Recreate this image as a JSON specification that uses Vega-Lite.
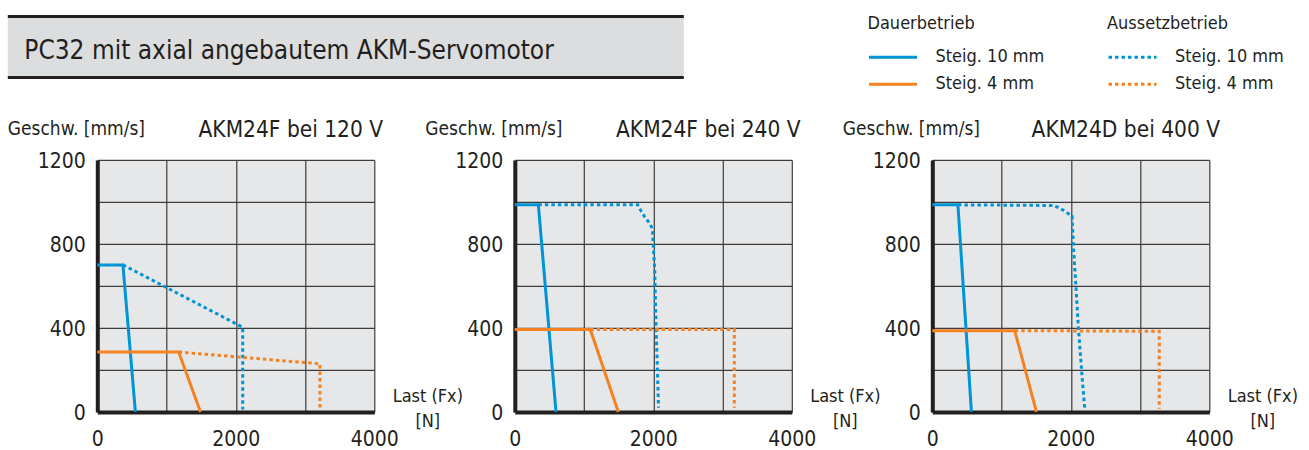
{
  "$schema": "https://vega.github.io/schema/vega-lite/v6.json",
  "background": "white",
  "padding": {"left": 5.8, "top": 14.5, "right": 0, "bottom": 0},
  "datasets": {
    "kurven": [
      {"panel": "AKM24F bei 120 V", "betrieb": "Dauerbetrieb", "steigung": "Steig. 10 mm", "i": 0, "last": 0, "geschw": 700},
      {"panel": "AKM24F bei 120 V", "betrieb": "Dauerbetrieb", "steigung": "Steig. 10 mm", "i": 1, "last": 370, "geschw": 700},
      {"panel": "AKM24F bei 120 V", "betrieb": "Dauerbetrieb", "steigung": "Steig. 10 mm", "i": 2, "last": 550, "geschw": 0},
      {"panel": "AKM24F bei 120 V", "betrieb": "Dauerbetrieb", "steigung": "Steig. 4 mm", "i": 0, "last": 0, "geschw": 285},
      {"panel": "AKM24F bei 120 V", "betrieb": "Dauerbetrieb", "steigung": "Steig. 4 mm", "i": 1, "last": 1175, "geschw": 285},
      {"panel": "AKM24F bei 120 V", "betrieb": "Dauerbetrieb", "steigung": "Steig. 4 mm", "i": 2, "last": 1490, "geschw": 0},
      {"panel": "AKM24F bei 120 V", "betrieb": "Aussetzbetrieb", "steigung": "Steig. 10 mm", "i": 0, "last": 370, "geschw": 700},
      {"panel": "AKM24F bei 120 V", "betrieb": "Aussetzbetrieb", "steigung": "Steig. 10 mm", "i": 1, "last": 2100, "geschw": 403},
      {"panel": "AKM24F bei 120 V", "betrieb": "Aussetzbetrieb", "steigung": "Steig. 10 mm", "i": 2, "last": 2100, "geschw": 12},
      {"panel": "AKM24F bei 120 V", "betrieb": "Aussetzbetrieb", "steigung": "Steig. 4 mm", "i": 0, "last": 1175, "geschw": 285},
      {"panel": "AKM24F bei 120 V", "betrieb": "Aussetzbetrieb", "steigung": "Steig. 4 mm", "i": 1, "last": 3215, "geschw": 229},
      {"panel": "AKM24F bei 120 V", "betrieb": "Aussetzbetrieb", "steigung": "Steig. 4 mm", "i": 2, "last": 3215, "geschw": 18},

      {"panel": "AKM24F bei 240 V", "betrieb": "Dauerbetrieb", "steigung": "Steig. 10 mm", "i": 0, "last": 0, "geschw": 987},
      {"panel": "AKM24F bei 240 V", "betrieb": "Dauerbetrieb", "steigung": "Steig. 10 mm", "i": 1, "last": 340, "geschw": 987},
      {"panel": "AKM24F bei 240 V", "betrieb": "Dauerbetrieb", "steigung": "Steig. 10 mm", "i": 2, "last": 595, "geschw": 0},
      {"panel": "AKM24F bei 240 V", "betrieb": "Dauerbetrieb", "steigung": "Steig. 4 mm", "i": 0, "last": 0, "geschw": 392},
      {"panel": "AKM24F bei 240 V", "betrieb": "Dauerbetrieb", "steigung": "Steig. 4 mm", "i": 1, "last": 1090, "geschw": 392},
      {"panel": "AKM24F bei 240 V", "betrieb": "Dauerbetrieb", "steigung": "Steig. 4 mm", "i": 2, "last": 1495, "geschw": 0},
      {"panel": "AKM24F bei 240 V", "betrieb": "Aussetzbetrieb", "steigung": "Steig. 10 mm", "i": 0, "last": 340, "geschw": 987},
      {"panel": "AKM24F bei 240 V", "betrieb": "Aussetzbetrieb", "steigung": "Steig. 10 mm", "i": 1, "last": 1775, "geschw": 987},
      {"panel": "AKM24F bei 240 V", "betrieb": "Aussetzbetrieb", "steigung": "Steig. 10 mm", "i": 2, "last": 1825, "geschw": 955},
      {"panel": "AKM24F bei 240 V", "betrieb": "Aussetzbetrieb", "steigung": "Steig. 10 mm", "i": 3, "last": 1870, "geschw": 932},
      {"panel": "AKM24F bei 240 V", "betrieb": "Aussetzbetrieb", "steigung": "Steig. 10 mm", "i": 4, "last": 1930, "geschw": 905},
      {"panel": "AKM24F bei 240 V", "betrieb": "Aussetzbetrieb", "steigung": "Steig. 10 mm", "i": 5, "last": 1975, "geschw": 880},
      {"panel": "AKM24F bei 240 V", "betrieb": "Aussetzbetrieb", "steigung": "Steig. 10 mm", "i": 6, "last": 1990, "geschw": 855},
      {"panel": "AKM24F bei 240 V", "betrieb": "Aussetzbetrieb", "steigung": "Steig. 10 mm", "i": 7, "last": 2000, "geschw": 790},
      {"panel": "AKM24F bei 240 V", "betrieb": "Aussetzbetrieb", "steigung": "Steig. 10 mm", "i": 8, "last": 2020, "geschw": 680},
      {"panel": "AKM24F bei 240 V", "betrieb": "Aussetzbetrieb", "steigung": "Steig. 10 mm", "i": 9, "last": 2040, "geschw": 400},
      {"panel": "AKM24F bei 240 V", "betrieb": "Aussetzbetrieb", "steigung": "Steig. 10 mm", "i": 10, "last": 2060, "geschw": 200},
      {"panel": "AKM24F bei 240 V", "betrieb": "Aussetzbetrieb", "steigung": "Steig. 10 mm", "i": 11, "last": 2075, "geschw": 20},
      {"panel": "AKM24F bei 240 V", "betrieb": "Aussetzbetrieb", "steigung": "Steig. 4 mm", "i": 0, "last": 1090, "geschw": 392},
      {"panel": "AKM24F bei 240 V", "betrieb": "Aussetzbetrieb", "steigung": "Steig. 4 mm", "i": 1, "last": 3170, "geschw": 392},
      {"panel": "AKM24F bei 240 V", "betrieb": "Aussetzbetrieb", "steigung": "Steig. 4 mm", "i": 2, "last": 3170, "geschw": 20},

      {"panel": "AKM24D bei 400 V", "betrieb": "Dauerbetrieb", "steigung": "Steig. 10 mm", "i": 0, "last": 0, "geschw": 986},
      {"panel": "AKM24D bei 400 V", "betrieb": "Dauerbetrieb", "steigung": "Steig. 10 mm", "i": 1, "last": 370, "geschw": 986},
      {"panel": "AKM24D bei 400 V", "betrieb": "Dauerbetrieb", "steigung": "Steig. 10 mm", "i": 2, "last": 565, "geschw": 0},
      {"panel": "AKM24D bei 400 V", "betrieb": "Dauerbetrieb", "steigung": "Steig. 4 mm", "i": 0, "last": 0, "geschw": 387},
      {"panel": "AKM24D bei 400 V", "betrieb": "Dauerbetrieb", "steigung": "Steig. 4 mm", "i": 1, "last": 1190, "geschw": 387},
      {"panel": "AKM24D bei 400 V", "betrieb": "Dauerbetrieb", "steigung": "Steig. 4 mm", "i": 2, "last": 1504, "geschw": 0},
      {"panel": "AKM24D bei 400 V", "betrieb": "Aussetzbetrieb", "steigung": "Steig. 10 mm", "i": 0, "last": 370, "geschw": 986},
      {"panel": "AKM24D bei 400 V", "betrieb": "Aussetzbetrieb", "steigung": "Steig. 10 mm", "i": 1, "last": 1745, "geschw": 983},
      {"panel": "AKM24D bei 400 V", "betrieb": "Aussetzbetrieb", "steigung": "Steig. 10 mm", "i": 2, "last": 1841, "geschw": 971},
      {"panel": "AKM24D bei 400 V", "betrieb": "Aussetzbetrieb", "steigung": "Steig. 10 mm", "i": 3, "last": 1937, "geschw": 950},
      {"panel": "AKM24D bei 400 V", "betrieb": "Aussetzbetrieb", "steigung": "Steig. 10 mm", "i": 4, "last": 2019, "geschw": 932},
      {"panel": "AKM24D bei 400 V", "betrieb": "Aussetzbetrieb", "steigung": "Steig. 10 mm", "i": 5, "last": 2034, "geschw": 808},
      {"panel": "AKM24D bei 400 V", "betrieb": "Aussetzbetrieb", "steigung": "Steig. 10 mm", "i": 6, "last": 2058, "geschw": 681},
      {"panel": "AKM24D bei 400 V", "betrieb": "Aussetzbetrieb", "steigung": "Steig. 10 mm", "i": 7, "last": 2082, "geschw": 554},
      {"panel": "AKM24D bei 400 V", "betrieb": "Aussetzbetrieb", "steigung": "Steig. 10 mm", "i": 8, "last": 2111, "geschw": 395},
      {"panel": "AKM24D bei 400 V", "betrieb": "Aussetzbetrieb", "steigung": "Steig. 10 mm", "i": 9, "last": 2140, "geschw": 268},
      {"panel": "AKM24D bei 400 V", "betrieb": "Aussetzbetrieb", "steigung": "Steig. 10 mm", "i": 10, "last": 2169, "geschw": 141},
      {"panel": "AKM24D bei 400 V", "betrieb": "Aussetzbetrieb", "steigung": "Steig. 10 mm", "i": 11, "last": 2202, "geschw": 14},
      {"panel": "AKM24D bei 400 V", "betrieb": "Aussetzbetrieb", "steigung": "Steig. 4 mm", "i": 0, "last": 1190, "geschw": 387},
      {"panel": "AKM24D bei 400 V", "betrieb": "Aussetzbetrieb", "steigung": "Steig. 4 mm", "i": 1, "last": 3277, "geschw": 384},
      {"panel": "AKM24D bei 400 V", "betrieb": "Aussetzbetrieb", "steigung": "Steig. 4 mm", "i": 2, "last": 3277, "geschw": 15}
    ]
  },
  "config": {
    "font": "DejaVu Sans Condensed, DejaVu Sans, sans-serif",
    "view": {"stroke": null},
    "axis": {
      "domainColor": "#231f20", "domainWidth": 4, "ticks": false, "grid": true,
      "gridColor": "#3c3c3c", "gridWidth": 1.2, "gridOpacity": 1,
      "labelFont": "DejaVu Sans Condensed, DejaVu Sans, sans-serif",
      "labelFontSize": 21, "labelColor": "#231f20",
      "labelFlush": false, "labelOverlap": false, "labelBound": false,
      "titleFont": "DejaVu Sans Condensed, DejaVu Sans, sans-serif",
      "titleColor": "#231f20", "titleFontWeight": "normal"
    },
    "axisX": {"labelPadding": 17},
    "axisY": {"labelPadding": 12, "labelOffset": 2},
    "legend": {
      "orient": "none", "symbolType": "stroke", "symbolSize": 2304, "symbolStrokeWidth": 3,
      "clipHeight": 27, "rowPadding": 0, "labelOffset": 17, "titlePadding": 10.5, "padding": 0,
      "labelFont": "DejaVu Sans Condensed, DejaVu Sans, sans-serif",
      "titleFont": "DejaVu Sans Condensed, DejaVu Sans, sans-serif",
      "labelFontSize": 18, "titleFontSize": 18, "titleFontWeight": "normal",
      "labelColor": "#231f20", "titleColor": "#231f20", "legendY": -1.3
    }
  },
  "columns": 1,
  "align": "none",
  "bounds": "full",
  "spacing": 39.4,
  "concat": [
    {
      "width": 676, "height": 61,
      "data": {"values": [{}]},
      "mark": {"type": "text"},
      "encoding": {
        "text": {"value": ""},
        "x": {"datum": 0, "type": "quantitative", "scale": {"domain": [0, 1]},
          "axis": {"orient": "top", "domain": false, "labels": false, "ticks": false, "grid": false,
            "title": "PC32 mit axial angebautem AKM-Servomotor", "titleX": 16, "titleY": 42, "titleAlign": "left", "titleAnchor": "start",
            "titleBaseline": "alphabetic", "titleFontSize": 26, "titleAngle": 0}}
      },
      "view": {"fill": "#dcdddf", "stroke": "#231f20", "strokeWidth": 3, "strokeDash": [676, 61]}
    },
    {
      "data": {"name": "kurven"},
      "bounds": "full",
      "spacing": -38.5,
      "hconcat": [
        {
          "width": 38, "height": 1,
          "data": {"values": [{}]},
          "mark": {"type": "text"},
          "encoding": {"text": {"value": ""}},
          "view": {"fill": null, "stroke": null}
        },
        {
          "width": 277, "height": 252,
          "view": {"fill": "#e6e7e8", "stroke": null},
          "transform": [{"filter": {"field": "panel", "equal": "AKM24F bei 120 V"}}],
          "encoding": {
            "y": {"field": "geschw", "type": "quantitative", "scale": {"domain": [0, 1200], "nice": false},
              "axis": {"values": [0, 200, 400, 600, 800, 1000, 1200], "format": "d", "labelExpr": "datum.value % 400 === 0 ? datum.label : ''",
                "title": "Geschw. [mm/s]", "titleAngle": 0, "titleX": -90, "titleY": -25, "titleAlign": "left", "titleBaseline": "alphabetic", "titleFontSize": 19}},
            "order": {"field": "i", "type": "quantitative"}
          },
          "resolve": {"axis": {"x": "independent"}},
          "layer": [
            {
              "transform": [{"filter": {"field": "betrieb", "equal": "Dauerbetrieb"}}],
              "mark": {"type": "line", "strokeWidth": 3},
              "encoding": {
                "x": {"field": "last", "type": "quantitative", "scale": {"domain": [0, 4000], "nice": false},
                  "axis": {"orient": "bottom", "values": [0, 1000, 2000, 3000, 4000], "format": "d", "labelExpr": "datum.value % 2000 === 0 ? datum.label : ''",
                    "title": ["Last (Fx)", "[N]"], "titleX": 330, "titleY": -10, "titleAlign": "center", "titleBaseline": "alphabetic", "titleLineHeight": 25, "titleFontSize": 18, "titleAngle": 0}},
                "color": {"field": "steigung", "type": "nominal", "scale": {"domain": ["Steig. 10 mm", "Steig. 4 mm"], "range": ["#0094d6", "#f58220"]},
                  "legend": {"title": "Dauerbetrieb", "legendX": 859.7}}
              }
            },
            {
              "transform": [{"filter": {"field": "betrieb", "equal": "Aussetzbetrieb"}}],
              "mark": {"type": "line", "strokeWidth": 3, "strokeDash": [3.5, 3]},
              "encoding": {
                "x": {"field": "last", "type": "quantitative", "scale": {"domain": [0, 4000], "nice": false},
                  "axis": {"orient": "top", "domain": false, "labels": false, "ticks": false, "grid": false,
                    "title": "AKM24F bei 120 V", "titleX": 193, "titleY": -23, "titleAlign": "center", "titleBaseline": "alphabetic", "titleFontSize": 22.5, "titleAngle": 0}},
                "stroke": {"field": "steigung", "type": "nominal", "scale": {"range": ["#0094d6", "#f58220"]},
                  "legend": {"title": "Aussetzbetrieb", "legendX": 1099.2, "symbolDash": [3.5, 3]}}
              }
            }
          ]
        },
        {
          "width": 277, "height": 252,
          "view": {"fill": "#e6e7e8", "stroke": null},
          "transform": [{"filter": {"field": "panel", "equal": "AKM24F bei 240 V"}}],
          "encoding": {
            "y": {"field": "geschw", "type": "quantitative", "scale": {"domain": [0, 1200], "nice": false},
              "axis": {"values": [0, 200, 400, 600, 800, 1000, 1200], "format": "d", "labelExpr": "datum.value % 400 === 0 ? datum.label : ''",
                "title": "Geschw. [mm/s]", "titleAngle": 0, "titleX": -90, "titleY": -25, "titleAlign": "left", "titleBaseline": "alphabetic", "titleFontSize": 19}},
            "order": {"field": "i", "type": "quantitative"}
          },
          "resolve": {"axis": {"x": "independent"}},
          "layer": [
            {
              "transform": [{"filter": {"field": "betrieb", "equal": "Dauerbetrieb"}}],
              "mark": {"type": "line", "strokeWidth": 3},
              "encoding": {
                "x": {"field": "last", "type": "quantitative", "scale": {"domain": [0, 4000], "nice": false},
                  "axis": {"orient": "bottom", "values": [0, 1000, 2000, 3000, 4000], "format": "d", "labelExpr": "datum.value % 2000 === 0 ? datum.label : ''",
                    "title": ["Last (Fx)", "[N]"], "titleX": 330, "titleY": -10, "titleAlign": "center", "titleBaseline": "alphabetic", "titleLineHeight": 25, "titleFontSize": 18, "titleAngle": 0}},
                "color": {"field": "steigung", "type": "nominal", "scale": {"domain": ["Steig. 10 mm", "Steig. 4 mm"], "range": ["#0094d6", "#f58220"]},
                  "legend": {"title": "Dauerbetrieb", "legendX": 859.7}}
              }
            },
            {
              "transform": [{"filter": {"field": "betrieb", "equal": "Aussetzbetrieb"}}],
              "mark": {"type": "line", "strokeWidth": 3, "strokeDash": [3.5, 3]},
              "encoding": {
                "x": {"field": "last", "type": "quantitative", "scale": {"domain": [0, 4000], "nice": false},
                  "axis": {"orient": "top", "domain": false, "labels": false, "ticks": false, "grid": false,
                    "title": "AKM24F bei 240 V", "titleX": 193, "titleY": -23, "titleAlign": "center", "titleBaseline": "alphabetic", "titleFontSize": 22.5, "titleAngle": 0}},
                "stroke": {"field": "steigung", "type": "nominal", "scale": {"range": ["#0094d6", "#f58220"]},
                  "legend": {"title": "Aussetzbetrieb", "legendX": 1099.2, "symbolDash": [3.5, 3]}}
              }
            }
          ]
        },
        {
          "width": 277, "height": 252,
          "view": {"fill": "#e6e7e8", "stroke": null},
          "transform": [{"filter": {"field": "panel", "equal": "AKM24D bei 400 V"}}],
          "encoding": {
            "y": {"field": "geschw", "type": "quantitative", "scale": {"domain": [0, 1200], "nice": false},
              "axis": {"values": [0, 200, 400, 600, 800, 1000, 1200], "format": "d", "labelExpr": "datum.value % 400 === 0 ? datum.label : ''",
                "title": "Geschw. [mm/s]", "titleAngle": 0, "titleX": -90, "titleY": -25, "titleAlign": "left", "titleBaseline": "alphabetic", "titleFontSize": 19}},
            "order": {"field": "i", "type": "quantitative"}
          },
          "resolve": {"axis": {"x": "independent"}},
          "layer": [
            {
              "transform": [{"filter": {"field": "betrieb", "equal": "Dauerbetrieb"}}],
              "mark": {"type": "line", "strokeWidth": 3},
              "encoding": {
                "x": {"field": "last", "type": "quantitative", "scale": {"domain": [0, 4000], "nice": false},
                  "axis": {"orient": "bottom", "values": [0, 1000, 2000, 3000, 4000], "format": "d", "labelExpr": "datum.value % 2000 === 0 ? datum.label : ''",
                    "title": ["Last (Fx)", "[N]"], "titleX": 330, "titleY": -10, "titleAlign": "center", "titleBaseline": "alphabetic", "titleLineHeight": 25, "titleFontSize": 18, "titleAngle": 0}},
                "color": {"field": "steigung", "type": "nominal", "scale": {"domain": ["Steig. 10 mm", "Steig. 4 mm"], "range": ["#0094d6", "#f58220"]},
                  "legend": {"title": "Dauerbetrieb", "legendX": 859.7}}
              }
            },
            {
              "transform": [{"filter": {"field": "betrieb", "equal": "Aussetzbetrieb"}}],
              "mark": {"type": "line", "strokeWidth": 3, "strokeDash": [3.5, 3]},
              "encoding": {
                "x": {"field": "last", "type": "quantitative", "scale": {"domain": [0, 4000], "nice": false},
                  "axis": {"orient": "top", "domain": false, "labels": false, "ticks": false, "grid": false,
                    "title": "AKM24D bei 400 V", "titleX": 193, "titleY": -23, "titleAlign": "center", "titleBaseline": "alphabetic", "titleFontSize": 22.5, "titleAngle": 0}},
                "stroke": {"field": "steigung", "type": "nominal", "scale": {"range": ["#0094d6", "#f58220"]},
                  "legend": {"title": "Aussetzbetrieb", "legendX": 1099.2, "symbolDash": [3.5, 3]}}
              }
            }
          ]
        }
      ]
    }
  ]
}
